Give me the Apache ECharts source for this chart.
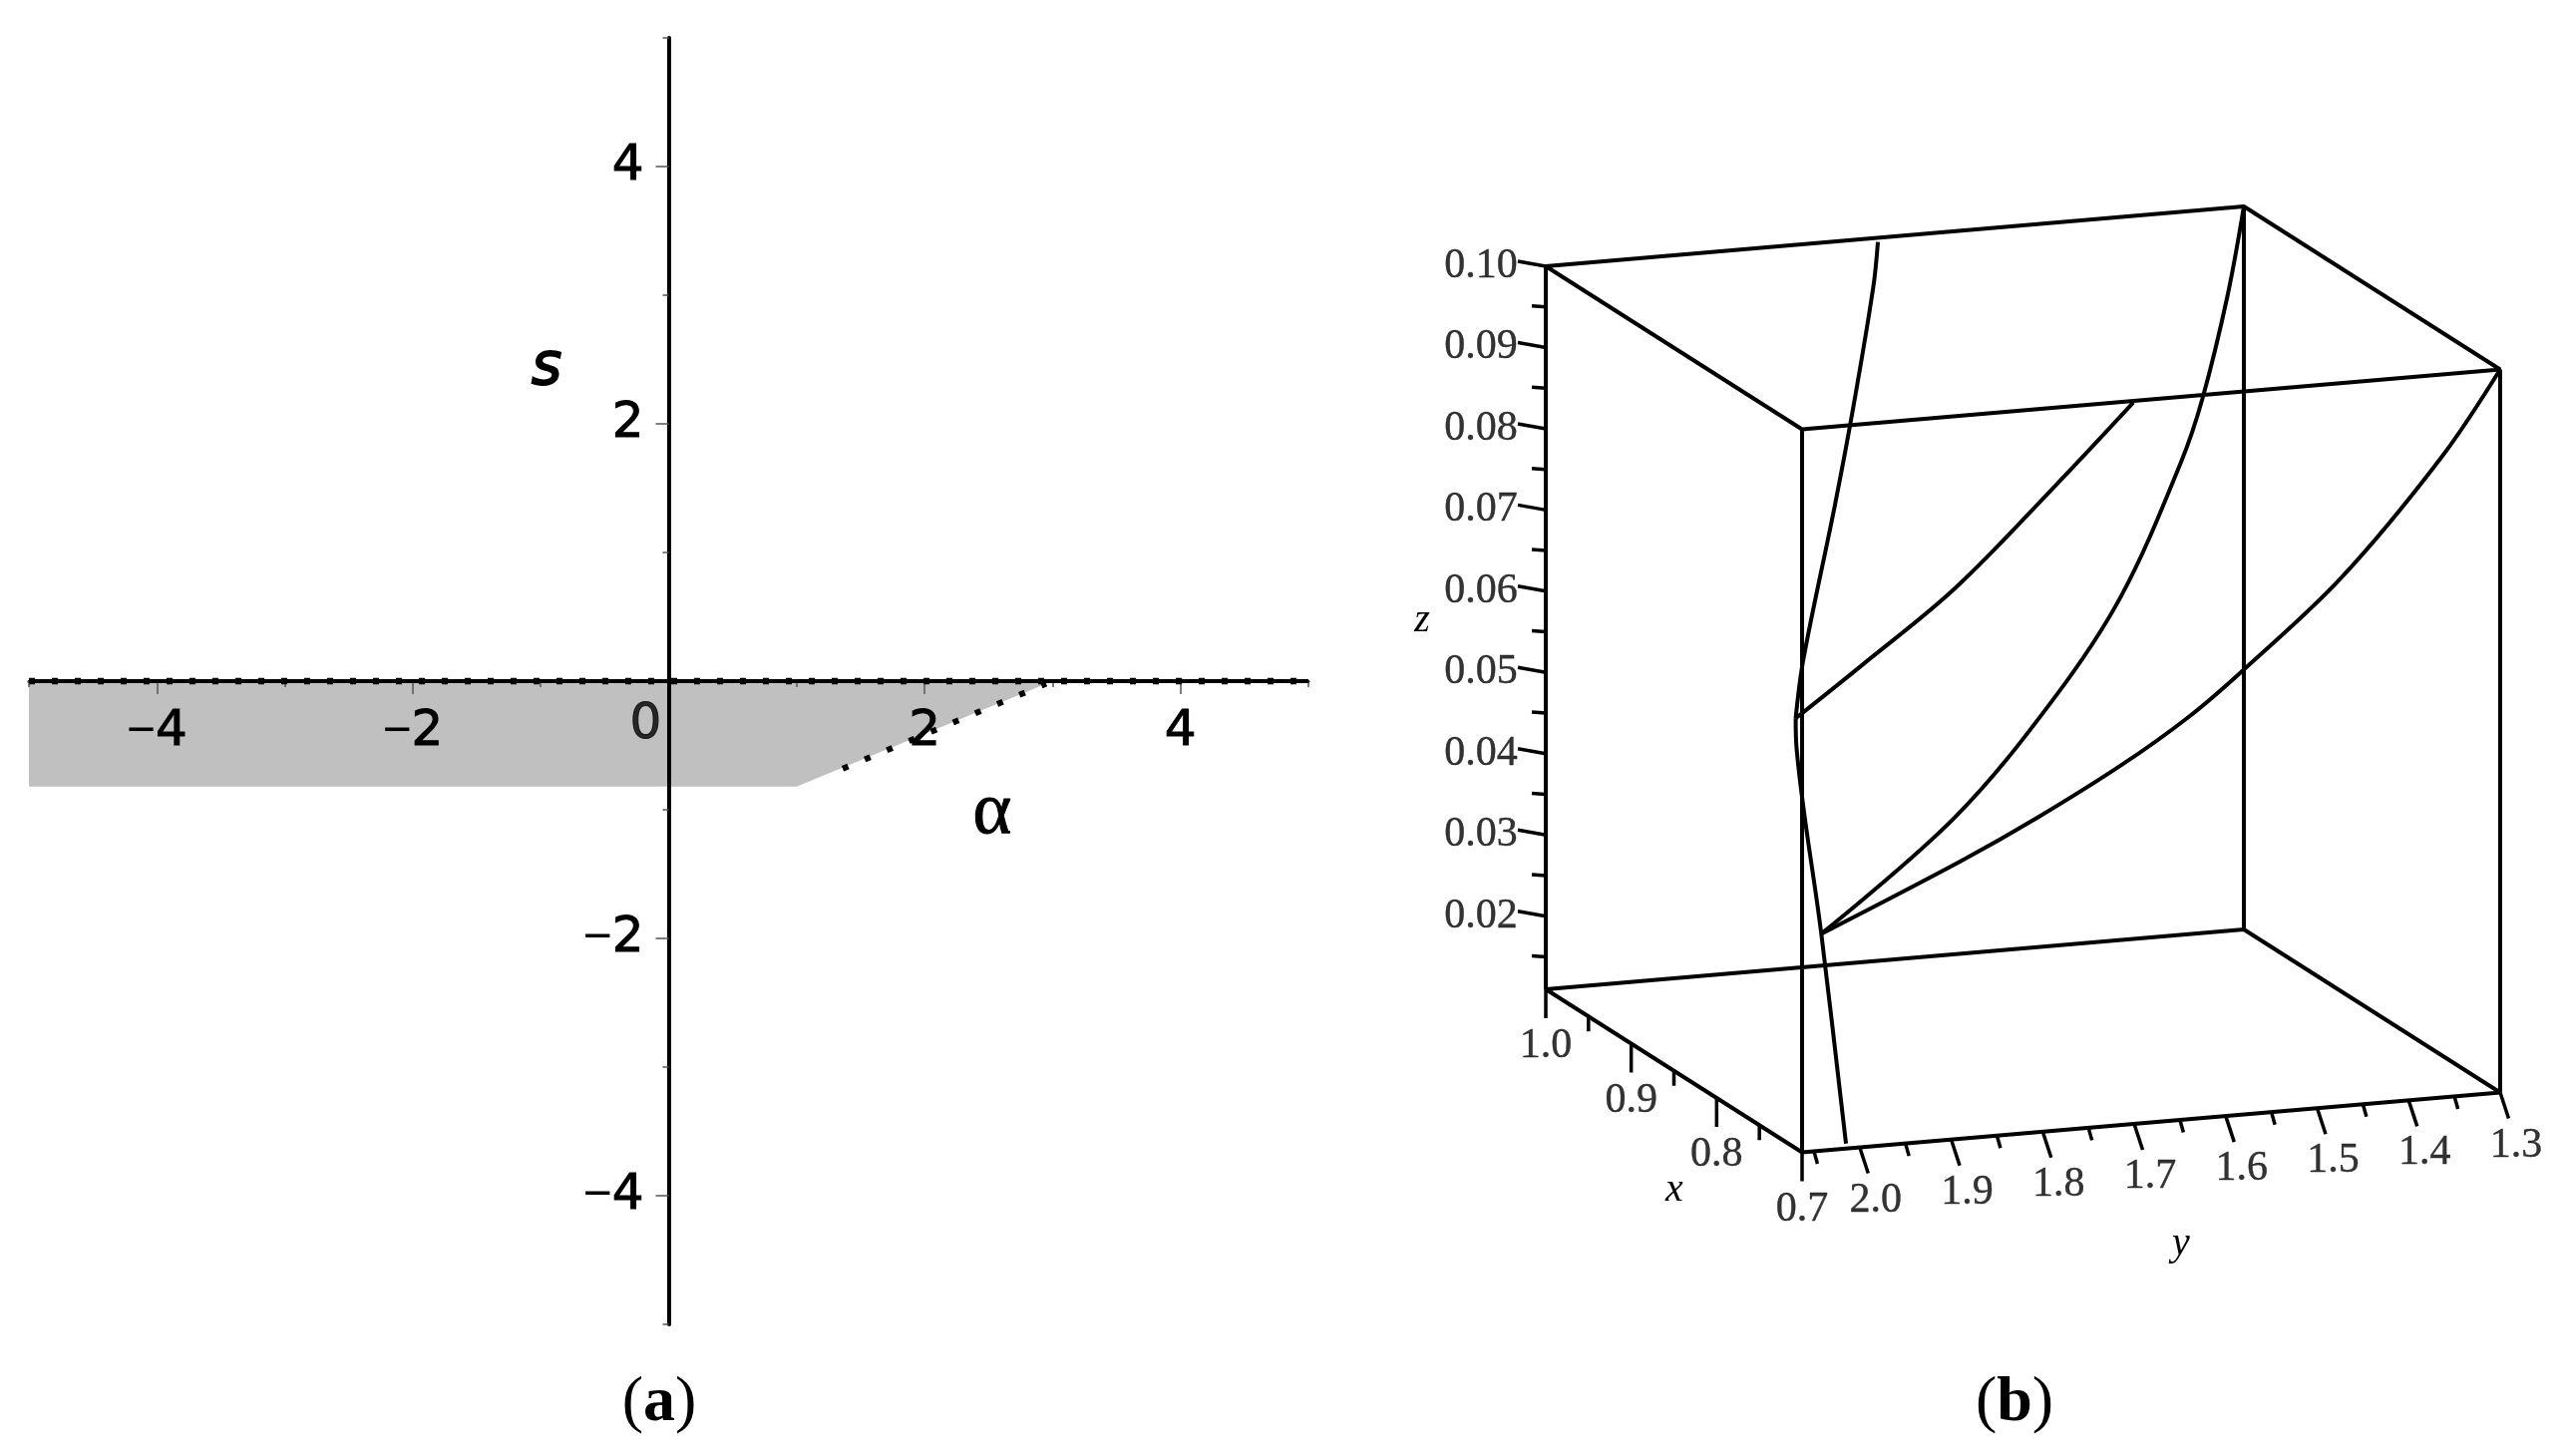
<!DOCTYPE html>
<html>
<head>
<meta charset="utf-8">
<style>html,body{margin:0;background:#fff}#main{width:2570px;height:1460px}</style>
<script src="https://cdn.jsdelivr.net/npm/echarts@6/dist/echarts.min.js"></script>
</head>
<body>
<div id="main"></div>
<script>
// panel (a)
const alphaMajor=[-4,-2,2,4];
const alphaMinor=[-5,-3,-1,1,3,5];
const sMajor=[-4,-2,2,4];
const sMinor=[-5,-3,-1,1,3,5];
const regionCorners=[[-5,0],[3,0],[1,-0.82],[-5,-0.82]];
const zeroLine=[[-5,0],[5,0]];
const boundary=[[1.36,-0.68],[2.95,-0.02]];

// panel (b), every point is [x,y,z]
const xRange=[0.7,1.0];
const yRange=[1.3,2.063];
const zRange=[0.011,0.1];
const xMajorB=[0.7,0.8,0.9,1.0];
const xMinorB=[0.75,0.85,0.95];
const yMajorB=[1.3,1.4,1.5,1.6,1.7,1.8,1.9,2.0];
const yMinorB=[1.35,1.45,1.55,1.65,1.75,1.85,1.95,2.05];
const zMajorB=[0.02,0.03,0.04,0.05,0.06,0.07,0.08,0.09,0.10];
const zMinorB=[0.015,0.025,0.035,0.045,0.055,0.065,0.075,0.085,0.095];
const spineCurve=[[0.7,2.070,0.0645],[0.7,2.069,0.0608],[0.7,2.042,0.0377],[0.7,2.015,0.0116]];
const upperNearCurve=[[0.7,2.070,0.0645],[0.7,1.998,0.0703],[0.7,1.896,0.0788],[0.7,1.787,0.0903],[0.7,1.701,0.0998]];
const upperFarCurve=[[0.7,2.070,0.0645],[0.75,2.015,0.0678],[0.83,1.906,0.0803],[0.89,1.830,0.0875],[0.97,1.733,0.0963],[1.0,1.700,0.0995]];
const lowerNearCurve=[[0.7,2.042,0.0377],[0.7,1.889,0.0452],[0.7,1.806,0.0497],[0.7,1.714,0.0553],[0.7,1.642,0.0604],[0.7,1.582,0.0656],[0.7,1.474,0.0760],[0.7,1.365,0.0897],[0.7,1.3,0.1]];
const lowerFarCurve=[[0.7,2.042,0.0377],[0.745,1.854,0.0472],[0.795,1.699,0.0570],[0.835,1.588,0.0659],[0.90,1.462,0.0768],[0.935,1.406,0.0817],[0.97,1.346,0.0914],[1.0,1.3,0.1]];

// view of the box: where its front bottom corner lands and how long the three edges are on the page
const boxOrigin=[1807,1155.5];
const edgeX=[-257,-163.5];
const edgeY=[700,-60];
const edgeZ=725;

const project=function (p) {
    const fx=(p[0]-xRange[0])/(xRange[1]-xRange[0]);
    const fy=(yRange[1]-p[1])/(yRange[1]-yRange[0]);
    const fz=(p[2]-zRange[0])/(zRange[1]-zRange[0]);
    return [boxOrigin[0]+fx*edgeX[0]+fy*edgeY[0],boxOrigin[1]+fx*edgeX[1]+fy*edgeY[1]-fz*edgeZ];
};
const gap=[NaN,NaN];
const segment=function (p,dx,dy) {
    const a=project(p);
    return [a,[a[0]+dx,a[1]+dy],gap];
};

const [x0,x1]=xRange,[y0,y1]=yRange,[z0,z1]=zRange;
const boxEdges=[
    [[x1,y1,z0],[x0,y1,z0],[x0,y0,z0],[x1,y0,z0],[x1,y1,z0]],
    [[x1,y1,z1],[x0,y1,z1],[x0,y0,z1],[x1,y0,z1],[x1,y1,z1]],
    [[x1,y1,z0],[x1,y1,z1]],[[x0,y1,z0],[x0,y1,z1]],[[x0,y0,z0],[x0,y0,z1]],[[x1,y0,z0],[x1,y0,z1]]
];
let edgeData=[];
boxEdges.forEach(function (e) { edgeData=edgeData.concat(e.map(project),[gap]); });

let tickData=[];
xMajorB.forEach(function (v) { tickData=tickData.concat(segment([v,y1,z0],0,29)); });
xMinorB.forEach(function (v) { tickData=tickData.concat(segment([v,y1,z0],0,15)); });
yMajorB.forEach(function (v) { tickData=tickData.concat(segment([x0,v,z0],8.5,26)); });
yMinorB.forEach(function (v) { tickData=tickData.concat(segment([x0,v,z0],3.5,12.5)); });
zMajorB.forEach(function (v) { tickData=tickData.concat(segment([x1,y1,v],-28,-5)); });
zMinorB.forEach(function (v) { tickData=tickData.concat(segment([x1,y1,v],-14,-1)); });

const tickLabels=function (vals,toPoint,dx,dy,digits) {
    return vals.map(function (v) {
        const a=project(toPoint(v));
        return {value:[a[0]+dx,a[1]+dy],name:v.toFixed(digits)};
    });
};
const labelsB=[].concat(
    tickLabels(xMajorB,function (v) {return [v,y1,z0];},0,57,1),
    tickLabels(yMajorB,function (v) {return [x0,v,z0];},16,53,1),
    tickLabels(zMajorB,function (v) {return [x1,y1,v];},-65,0,2)
);

const curveSeries=function (name,pts) {
    return {
        name:name,type:'line',xAxisIndex:2,yAxisIndex:2,smooth:0.35,showSymbol:false,silent:true,z:6,
        data:pts.map(project),lineStyle:{color:'#000',width:4}
    };
};
const plainLine=function (name,data,width,dash) {
    return {
        name:name,type:'line',xAxisIndex:0,yAxisIndex:0,showSymbol:false,silent:true,z:12,
        data:data,lineStyle:{color:'#000',width:width,type:dash||'solid'}
    };
};
const minusLabel=function (v) {
    return v<0?'{m|\u2212}{d|'+(-v)+'}':'{d|'+v+'}';
};
const richA={
    d:{fontFamily:'DejaVu Sans',fontSize:50,color:'#000',textBorderColor:'#000',textBorderWidth:1},
    m:{fontFamily:'Liberation Sans',fontSize:50,color:'#000'}
};
const hiddenValue=function (min,max) {
    return {type:'value',gridIndex:1,min:min,max:max,show:false};
};
const caption=function (x,y,letter) {
    return {type:'text',x:x,y:y,style:{
        text:'{p|(}{b|'+letter+'}{p|)}',align:'center',verticalAlign:'middle',
        rich:{p:{font:'64px "Liberation Serif"',fill:'#000'},b:{font:'bold 64px "Liberation Serif"',fill:'#000'}}
    }};
};
const note=function (x,y,text,font,heavy) {
    return {type:'text',x:x,y:y,style:{text:text,font:font,fill:'#000',align:'center',verticalAlign:'middle',stroke:heavy?'#000':null,lineWidth:heavy||0}};
};

const chart=echarts.init(document.getElementById('main'));
chart.setOption({
    backgroundColor:'#fff',
    animation:false,
    grid:[
        {left:29,top:38,width:1283,height:1290,outerBoundsMode:'none'},
        {left:0,top:0,width:2570,height:1460,outerBoundsMode:'none'}
    ],
    xAxis:[
        {type:'value',gridIndex:0,min:-5,max:5,position:'bottom',offset:-645,z:10,splitLine:{show:false},
            axisLine:{onZero:false,lineStyle:{color:'#000',width:3}},
            axisTick:{customValues:alphaMajor,length:13,lineStyle:{color:'#555',width:1.5}},
            axisLabel:{customValues:alphaMajor,margin:26,formatter:minusLabel,rich:richA}},
        {type:'value',gridIndex:0,min:-5,max:5,position:'bottom',offset:-645,z:10,splitLine:{show:false},
            axisLine:{onZero:false,show:false},
            axisTick:{customValues:alphaMinor,length:6,lineStyle:{color:'#555',width:1.5}},
            axisLabel:{show:false}},
        hiddenValue(0,2570)
    ],
    yAxis:[
        {type:'value',gridIndex:0,min:-5,max:5,position:'left',offset:-641.5,z:10,splitLine:{show:false},
            axisLine:{onZero:false,lineStyle:{color:'#000',width:4}},
            axisTick:{customValues:sMajor,length:13,lineStyle:{color:'#555',width:1.5}},
            axisLabel:{customValues:sMajor,margin:25,formatter:minusLabel,rich:richA}},
        {type:'value',gridIndex:0,min:-5,max:5,position:'left',offset:-641.5,z:10,splitLine:{show:false},
            axisLine:{onZero:false,show:false},
            axisTick:{customValues:sMinor,length:6,lineStyle:{color:'#555',width:1.5}},
            axisLabel:{show:false}},
        Object.assign(hiddenValue(0,1460),{inverse:true})
    ],
    series:[
        {
            name:'region',type:'custom',xAxisIndex:0,yAxisIndex:0,silent:true,z:1,
            data:[regionCorners[0]],
            renderItem:function (params,api) {
                return {type:'polygon',shape:{points:regionCorners.map(function (p) {return api.coord(p);})},style:{fill:'#c0c0c0'}};
            }
        },
        plainLine('s=0',zeroLine,4),
        plainLine('s=0 dots',zeroLine,6.5,[6,17]),
        plainLine('boundary',boundary,6,[6,18]),
        {
            name:'origin label',type:'scatter',xAxisIndex:0,yAxisIndex:0,symbolSize:1,silent:true,z:12,
            data:[[0,0]],itemStyle:{color:'transparent'},
            label:{show:true,position:'inside',offset:[-23,44],formatter:'0',fontFamily:'DejaVu Sans',fontSize:50,color:'#000',textBorderColor:'#000',textBorderWidth:1}
        },
        {
            name:'box',type:'line',xAxisIndex:2,yAxisIndex:2,showSymbol:false,silent:true,z:5,
            data:edgeData,lineStyle:{color:'#000',width:4}
        },
        {
            name:'box ticks',type:'line',xAxisIndex:2,yAxisIndex:2,showSymbol:false,silent:true,z:5,
            data:tickData,lineStyle:{color:'#000',width:3.5}
        },
        curveSeries('spine',spineCurve),
        curveSeries('upper near',upperNearCurve),
        curveSeries('upper far',upperFarCurve),
        curveSeries('lower near',lowerNearCurve),
        curveSeries('lower far',lowerFarCurve),
        {
            name:'box labels',type:'scatter',xAxisIndex:2,yAxisIndex:2,symbolSize:1,silent:true,z:7,
            data:labelsB,itemStyle:{color:'transparent'},
            label:{show:true,position:'inside',formatter:'{b}',fontFamily:'Liberation Serif',fontSize:42,color:'#000',textBorderColor:'#000',textBorderWidth:0.4}
        }
    ],
    graphic:[
        note(548,370,'s','italic 58px "DejaVu Sans"',2),
        note(995,816,'\u03b1','74px "Liberation Serif"',1),
        note(1426,622,'z','italic 40px "Liberation Serif"'),
        note(1679,1193,'x','italic 40px "Liberation Serif"'),
        note(2187,1247,'y','italic 40px "Liberation Serif"'),
        caption(661,1407,'a'),
        caption(2020,1407,'b')
    ]
});
</script>
</body>
</html>
